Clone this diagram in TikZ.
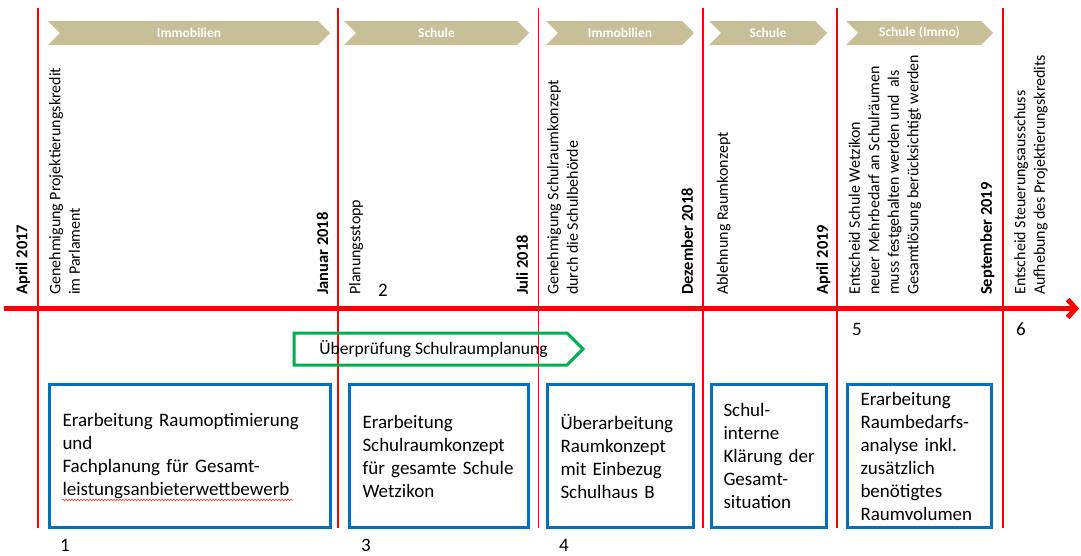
\documentclass[tikz,border=0pt]{standalone}
\usepackage{fontspec}
\setmainfont{Carlito}
\usetikzlibrary{shapes.symbols,arrows.meta,decorations.pathmorphing}
\definecolor{chevtan}{RGB}{200,190,152}
\definecolor{boxblue}{RGB}{0,112,192}
\definecolor{arrgreen}{RGB}{0,176,80}
\begin{document}
\begin{tikzpicture}[x=1pt,y=-1pt,
  vline/.style={red, line width=1.5pt},
  axisline/.style={red, line width=5pt, -{Straight Barb[length=8pt,width=18pt]}},
  chev/.style={shape=signal, signal from=west, signal to=east, signal pointer angle=90,
    fill=chevtan, text=white, font=\bfseries\fontsize{13.5}{16}\selectfont,
    minimum height=24pt, inner sep=0pt, outer sep=0pt},
  vtext/.style={rotate=90, anchor=north west, inner sep=0pt, align=left,
    font=\fontsize{16}{19.5}\selectfont},
  vdate/.style={rotate=90, anchor=north west, inner sep=0pt,
    font=\bfseries\fontsize{16.5}{19}\selectfont},
  task/.style={draw=boxblue, line width=3pt, align=left, inner xsep=13pt, inner ysep=0pt,
    minimum height=143pt, outer sep=0pt, anchor=north west,
    font=\fontsize{19}{23}\selectfont},
  review/.style={shape=signal, signal to=east, signal from=nowhere, signal pointer angle=90,
    draw=arrgreen, line width=3pt, minimum height=32pt, inner sep=0pt, outer sep=0pt,
    font=\fontsize{17.5}{20}\selectfont},
  num/.style={anchor=base west, inner sep=0pt, font=\fontsize{19}{23}\selectfont},
  spellmark/.style={red!80!white, line width=0.6pt,
    decorate, decoration={snake, amplitude=0.8pt, segment length=3pt}}
]
\useasboundingbox (0,0) rectangle (1081,555);
\fill[white] (0,0) rectangle (1081,555);

% vertical separators
\foreach \x [count=\i] in {38,338,538.5,703,837,1003}{
  \coordinate (t\i) at (\x,8);
  \coordinate (b\i) at (\x,528);
  \draw[vline] (t\i) -- (b\i);
}

% axis
\coordinate (axL) at (4,308.5);
\coordinate (axR) at (1079,308.5);
\draw[axisline] (axL) -- (axR);

% chevrons
\node[chev, minimum width=282pt] (c1) at (189,33) {Immobilien};
\node[chev, minimum width=185pt] (c2) at (436.5,33) {Schule};
\node[chev, minimum width=148pt] (c3) at (620,33) {Immobilien};
\node[chev, minimum width=118pt] (c4) at (768,33) {Schule};
\node[chev, minimum width=147pt] (c5) at (919.5,33) {Schule (Immo)};

% rotated texts
\node[vdate] (d0) at (15.5,295) {April 2017};
\node[vtext] (e1) at (49,295) {Genehmigung Projektierungskredit\\im Parlament};
\node[vdate] (d1) at (316.5,295) {Januar 2018};
\node[vtext] (e2) at (349,295) {Planungsstopp};
\node[vdate] (d2) at (516,295) {Juli 2018};
\node[vtext] (e3) at (547,295) {Genehmigung Schulraumkonzept\\durch die Schulbehörde};
\node[vdate] (d3) at (681,295) {Dezember 2018};
\node[vtext] (e4) at (716.5,295) {Ablehnung Raumkonzept};
\node[vdate] (d4) at (816,295) {April 2019};
\node[vtext] (e5) at (848.5,295) {Entscheid Schule Wetzikon\\neuer Mehrbedarf an Schulräumen\\muss festgehalten werden und\ \ als\\Gesamtlösung berücksichtigt werden};
\node[vdate] (d5) at (980,295) {September 2019};
\node[vtext] (e6) at (1014,295) {Entscheid Steuerungsausschuss\\Aufhebung des Projektierungskredits};

% review arrow
\node[review, minimum width=289pt] (rv) at (430.5,349) {\hspace*{6pt}Überprüfung Schulraumplanung};

% task boxes
\node[task, text width=255pt] (k1) at (49.5,384.5) {Erarbeitung Raumoptimierung\\und\\Fachplanung für Gesamt-\\leistungsanbieterwettbewerb};
\node[task, text width=153pt] (k2) at (349.5,384.5) {Erarbeitung\\Schulraumkonzept\\für gesamte Schule\\Wetzikon};
\node[task, text width=120pt] (k3) at (547.5,384.5) {Überarbeitung\\Raumkonzept\\mit Einbezug\\Schulhaus B};
\node[task, inner xsep=12pt, text width=91pt] (k4) at (711.5,384.5) {Schul-\\interne\\\mbox{Klärung der}\\Gesamt-\\situation};
\node[task, text width=118pt] (k5) at (847.5,384.5) {Erarbeitung\\Raumbedarfs-\\analyse inkl.\\zusätzlich\\benötigtes\\Raumvolumen};

% spell-check underline
\coordinate (sp1) at (62,500);
\coordinate (sp2) at (293,500);
\draw[spellmark] (sp1) -- (sp2);

% numbers
\node[num] (n1) at (60,551) {1};
\node[num] (n2) at (378,296) {2};
\node[num] (n3) at (361,551) {3};
\node[num] (n4) at (559,551) {4};
\node[num] (n5) at (852,335) {5};
\node[num] (n6) at (1016,335) {6};
\end{tikzpicture}
\end{document}
